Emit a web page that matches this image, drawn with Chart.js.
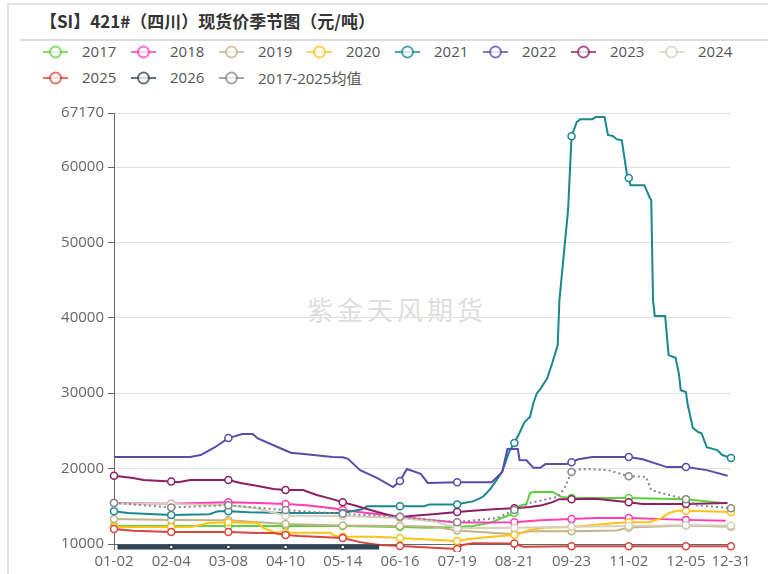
<!DOCTYPE html>
<html>
<head>
<meta charset="utf-8">
<script src="https://cdn.jsdelivr.net/npm/chart.js@4.4.1/dist/chart.umd.min.js"></script>
<style>
  html,body{margin:0;padding:0;background:#fff;}
  #wrap{position:relative;width:768px;height:574px;overflow:hidden;font-family:"Open Sans","Noto Sans CJK SC",sans-serif;}
  #frame{position:absolute;left:7px;top:3px;width:780px;height:600px;border:2px solid #e2e2e2;box-sizing:border-box;}
  #sep{position:absolute;left:20px;top:39px;width:760px;height:0;border-top:2px solid #dcdcdc;}
  #title{position:absolute;left:40px;top:8px;font:bold 17px "Noto Sans CJK SC",sans-serif;color:#333;white-space:nowrap;}
  .lg{position:absolute;height:20px;font-size:15px;color:#555;white-space:nowrap;}
  .lg svg{position:absolute;left:0;top:3px;}
  .lg span{position:absolute;left:39px;top:-1px;}
  #wm{position:absolute;left:307px;top:290px;font:26px "Noto Sans CJK SC",sans-serif;color:#dedede;letter-spacing:4px;}
  canvas{position:absolute;left:0;top:0;}
</style>
</head>
<body>
<div id="wrap">
  <div id="frame"></div>
  <div id="sep"></div>
  <div id="title">【SI】421#（四川）现货价季节图（元/吨）</div>
  <div id="wm">紫金天风期货</div>
  <div id="legend"></div>
  <canvas id="chart" width="768" height="574"></canvas>
</div>
<script>
// x = 距 01-02 的天数
const TICK_DAYS   = [0,33,66,99,132,165,198,231,264,297,330,356];
const TICK_LABELS = ["01-02","02-04","03-08","04-10","05-14","06-16","07-19","08-21","09-23","11-02","12-05","12-31"];
const Y_TICKS = [10000,20000,30000,40000,50000,60000,67170];

const s2017 = [[0,12400],[33,12400],[66,12400],[99,12400],[132,12400],[165,12250],[181,12150],[198,12250],[207,12400],[217,12800],[228,13850],[231,14100],[234,15050],[238,15300],[240,16750],[242,16900],[253,16900],[258,16250],[264,16100],[297,16100],[330,15950],[351,15450]];
const s2018 = [[0,15450],[33,15350],[66,15550],[83,15450],[99,15300],[111,15150],[126,14750],[132,14500],[146,14100],[158,13850],[165,13600],[181,13200],[198,12850],[231,12900],[246,13150],[264,13300],[278,13450],[297,13450],[330,13200],[353,13100]];
const s2019 = [[0,13300],[33,13200],[66,13150],[83,12900],[99,12650],[132,12450],[165,12400],[185,12300],[198,11800],[231,11300],[240,11700],[264,11700],[290,11800],[297,12200],[330,12450],[356,12300]];
const s2020 = [[0,12250],[33,12250],[44,12250],[50,12520],[54,12780],[66,12900],[83,12800],[86,12150],[92,11600],[99,11500],[125,11500],[127,11100],[132,10950],[150,10950],[160,10850],[165,10800],[184,10550],[198,10400],[205,10650],[218,10950],[231,11200],[240,11850],[248,12150],[264,12250],[278,12550],[290,12800],[297,12900],[309,12900],[316,13450],[320,14100],[325,14400],[330,14400],[356,14250]];
const s2021 = [[0,14350],[8,14100],[33,13850],[55,13950],[60,14350],[66,14350],[78,14200],[99,14100],[132,14100],[143,14600],[146,15000],[165,15000],[179,15000],[182,15250],[198,15250],[201,15400],[207,15650],[211,16050],[213,16300],[217,17250],[221,18550],[224,19600],[228,22250],[231,23400],[234,24750],[237,26200],[240,26850],[242,28700],[244,30000],[246,30550],[250,32000],[253,34100],[256,36400],[257,42350],[262,54300],[264,64100],[267,65950],[269,66350],[276,66350],[278,66650],[283,66650],[285,64250],[288,64100],[290,63700],[293,63550],[296,58950],[297,58550],[298,57600],[306,57600],[309,56000],[310,55600],[311,42350],[312,40250],[318,40250],[320,35050],[324,34700],[326,32500],[327,30400],[330,30150],[331,28500],[334,25400],[337,24850],[339,24700],[342,22850],[348,22450],[351,21800],[356,21400]];
const s2022 = [[0,21550],[33,21550],[44,21550],[50,21800],[58,22800],[66,24050],[74,24600],[80,24600],[83,24000],[96,22700],[99,22400],[102,22100],[111,21900],[126,21550],[132,21500],[135,21300],[142,19800],[152,18750],[161,17550],[165,18350],[169,19950],[177,19300],[181,18100],[198,18200],[218,18200],[224,19550],[227,22600],[231,22600],[233,22600],[234,21150],[238,21100],[242,20100],[246,20100],[249,20600],[261,20600],[264,20850],[268,21250],[276,21550],[297,21550],[305,21250],[319,20200],[330,20200],[342,19800],[354,19050]];
const s2023 = [[0,19050],[11,18750],[17,18500],[33,18300],[37,18200],[44,18500],[66,18500],[73,18100],[83,17700],[92,17300],[99,17150],[109,17150],[117,16500],[126,15950],[132,15550],[140,15050],[152,14250],[161,13700],[165,13550],[171,13700],[184,13950],[198,14250],[207,14400],[221,14650],[231,14750],[240,14900],[247,15150],[253,15550],[257,15950],[264,15950],[278,16000],[297,15550],[305,15300],[330,15300],[354,15450]];
const s2024 = [[0,15400],[33,15300],[66,15150],[83,14700],[99,13750],[132,13700],[165,13450],[185,13000],[198,12100],[231,12150],[264,12300],[297,12400],[330,12500],[356,12450]];
const s2025 = [[0,12000],[11,11750],[33,11600],[66,11600],[83,11450],[92,11450],[99,11200],[107,11050],[132,10800],[142,10250],[153,9870],[165,9750],[184,9500],[198,9350],[201,9870],[207,10100],[231,10050],[236,9650],[264,9700],[297,9700],[330,9700],[356,9700]];
const s2026 = [[2,9600],[33,9600],[66,9600],[99,9600],[132,9600],[153,9600]];
const sAvg  = [[0,15450],[33,14850],[66,15150],[99,14500],[132,14000],[165,13600],[190,13050],[198,12900],[221,13450],[231,14500],[240,15450],[256,16250],[260,17450],[264,19550],[270,19950],[285,19800],[297,19000],[307,18900],[310,17150],[316,16750],[330,15950],[336,15150],[356,14750]];

const SERIES = [
  { label:"2017", data:s2017, color:"#5cd13a" },
  { label:"2018", data:s2018, color:"#ff3db4" },
  { label:"2019", data:s2019, color:"#c2b386" },
  { label:"2020", data:s2020, color:"#ffc21a" },
  { label:"2021", data:s2021, color:"#1a8791", noMark:[330] },
  { label:"2022", data:s2022, color:"#5a4bab", noMark:[0,33,99,132,231] },
  { label:"2023", data:s2023, color:"#8e1f62" },
  { label:"2024", data:s2024, color:"#d8cfbf" },
  { label:"2025", data:s2025, color:"#d5463f" },
  { label:"2026", data:s2026, color:"#2f4454", width:5, r:2 },
  { label:"2017-2025均值", data:sAvg, color:"#888888", dash:[2,3] },
];

// HTML 图例
const lg = document.getElementById("legend");
SERIES.forEach((s,i)=>{
  const col = i % 8, row = Math.floor(i / 8);
  const d = document.createElement("div");
  d.className = "lg";
  d.style.left = (43 + col*88) + "px";
  d.style.top = (42 + row*26) + "px";
  d.innerHTML = `<svg width="25" height="14"><line x1="0" y1="7" x2="25" y2="7" stroke="${s.color}" stroke-width="2" opacity="0.75"/>`
    + `<circle cx="12.5" cy="7" r="5.5" fill="#fff" stroke="${s.color}" stroke-width="2" opacity="0.75"/></svg><span>${s.label}</span>`;
  lg.appendChild(d);
});

new Chart(document.getElementById("chart"), {
  type:"line",
  data:{
    datasets: SERIES.map((s,i)=>({
      label:s.label,
      data:s.data.map(p=>({x:p[0], y:p[1]})),
      borderColor:s.color,
      backgroundColor:"#fff",
      borderWidth:s.width || 2,
      borderDash:s.dash || [],
      pointBorderColor:s.color,
      pointBackgroundColor:"#fff",
      pointBorderWidth:1.5,
      pointRadius:ctx => (TICK_DAYS.includes(ctx.raw.x) && !(s.noMark || []).includes(ctx.raw.x)) ? (s.r || 3.5) : 0,
      pointHoverRadius:0,
      tension:0,
      order:-i,
      clip:8,
    })),
  },
  options:{
    responsive:false, animation:false, devicePixelRatio:1,
    layout:{ padding:{ left:0, right:37, top:113, bottom:0 } },
    plugins:{ legend:{display:false}, tooltip:{enabled:false} },
    scales:{
      x:{
        type:"linear", min:0, max:356,
        afterBuildTicks: sc => { sc.ticks = TICK_DAYS.map(v=>({value:v})); },
        afterFit: sc => { sc.height = 30; },
        grid:{ drawOnChartArea:false, drawTicks:true, tickLength:6, tickColor:"#666" },
        border:{ display:true, color:"#666", width:1 },
        ticks:{ autoSkip:false, maxRotation:0, padding:3, color:"#666", font:{family:"Open Sans", size:15},
          callback:(v)=>TICK_LABELS[TICK_DAYS.indexOf(v)] },
      },
      y:{
        min:10000, max:67170,
        afterBuildTicks: sc => { sc.ticks = Y_TICKS.map(v=>({value:v})); },
        afterFit: sc => { sc.width = 114; },
        grid:{ color:"#e0e0e0", tickLength:6, tickColor:"#666" },
        border:{ display:true, color:"#666", width:1 },
        ticks:{ padding:4, color:"#666", font:{family:"Open Sans", size:15}, callback:v=>String(v) },
      },
    },
  },
});
</script>
</body>
</html>
